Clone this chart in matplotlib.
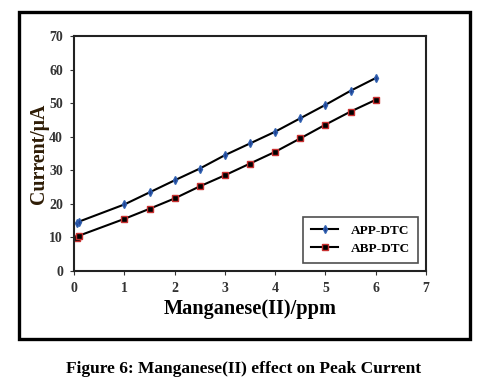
import numpy as np
import matplotlib
matplotlib.use("Agg")
import matplotlib.pyplot as plt
from matplotlib.patches import Rectangle

plt.rcParams['font.family'] = ['Liberation Serif', 'DejaVu Serif']

# data
mn_ppm = [0.05, 0.1, 1.0, 1.5, 2.0, 2.5, 3.0, 3.5, 4.0, 4.5, 5.0, 5.5, 6.0]
app_dtc = [14.2, 14.7, 19.8, 23.4, 27.0, 30.5, 34.5, 38.0, 41.5, 45.5, 49.5, 53.7, 57.5]
abp_dtc = [9.8, 10.5, 15.5, 18.5, 21.6, 25.2, 28.5, 32.0, 35.5, 39.5, 43.6, 47.5, 51.0]
x_ticks = [0, 1, 2, 3, 4, 5, 6, 7]
y_ticks = [0, 10, 20, 30, 40, 50, 60, 70]

fig = plt.figure(figsize=(4.88, 3.88), dpi=100)
ax = fig.add_axes([0.152, 0.302, 0.721, 0.605])

ax.plot(mn_ppm, app_dtc, color='black', lw=1.5, marker='d', ms=4,
        mfc='#1f3f8f', mec='#3060b0', label='APP-DTC')
ax.plot(mn_ppm, abp_dtc, color='black', lw=1.5, marker='s', ms=5,
        mfc='black', mec='#c83030', mew=1, label='ABP-DTC')

ax.set_xlim(0, 7)
ax.set_ylim(0, 70)
ax.set_xticks(x_ticks)
ax.set_yticks(y_ticks)
ax.tick_params(labelsize=10, length=3, width=0.8, colors='#333333', pad=5)
for lab in ax.get_xticklabels() + ax.get_yticklabels():
    lab.set_fontweight('bold')
for s in ax.spines.values():
    s.set_linewidth(1.5)
    s.set_color('#222222')

ax.set_xlabel('Manganese(II)/ppm', fontsize=14.7, fontweight='bold', labelpad=3)
ax.set_ylabel('Current/μA', fontsize=14.3, fontweight='bold', color='#2e1c05', labelpad=0)

leg = ax.legend(loc='lower right', bbox_to_anchor=(0.977, 0.034), borderaxespad=0,
                prop={'size': 9.5, 'weight': 'bold'},
                frameon=True, fancybox=False, edgecolor='#222222',
                handlelength=2.0, borderpad=0.6, labelspacing=0.45, handletextpad=1.0)
leg.get_frame().set_linewidth(1.2)

# outer frame around the chart
fig.patches.append(Rectangle((19 / 488, 1 - 339 / 388), 451 / 488, 327 / 388,
                             transform=fig.transFigure, fill=False,
                             lw=2.4, ec='black'))

fig.text(0.5, 1 - 369 / 388, 'Figure 6: Manganese(II) effect on Peak Current',
         ha='center', va='center', fontsize=12.5, fontweight='bold')

plt.savefig('out.png', dpi=100)
